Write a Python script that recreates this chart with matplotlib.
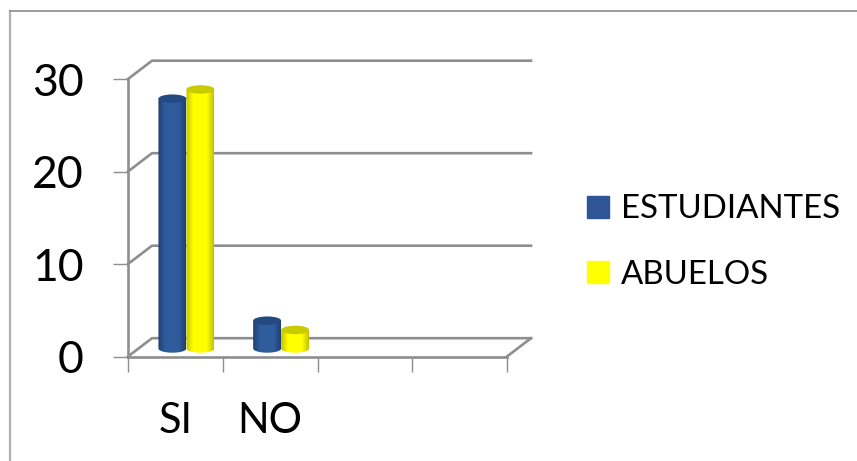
import numpy as np
import matplotlib
matplotlib.use('Agg')
import matplotlib.pyplot as plt
from matplotlib.colors import LinearSegmentedColormap
from matplotlib.lines import Line2D
from matplotlib.patches import Ellipse, Patch, PathPatch
from matplotlib.path import Path

plt.rcParams['font.family'] = ['Lato', 'DejaVu Sans']

categorias = ['SI', 'NO', '', '']
estudiantes = [27, 3]
abuelos = [28, 2]
ticks_y = [0, 10, 20, 30]

W, H = 857, 461
GRIS = '#8e8e8e'

fig = plt.figure(figsize=(W / 100, H / 100), dpi=100)
ax = fig.add_axes([128 / W, 1 - 356.5 / H, 379 / W, 277.5 / H])
ax.set_xlim(0, 4)
ax.set_ylim(0, 30)

# profundidad del falso 3D, en unidades de datos
dx = 24 / (379 / 4)
dy = 18.3 / (277.5 / 30)

for s in ['top', 'right']:
    ax.spines[s].set_visible(False)
for s in ['left', 'bottom']:
    ax.spines[s].set_color(GRIS)
    ax.spines[s].set_linewidth(1.9)

ax.set_xticks(range(5))
ax.set_xticklabels([])
ax.set_xticks(np.arange(len(categorias)) + 0.5, categorias, minor=True)
ax.set_yticks(ticks_y)
ax.tick_params(axis='x', which='major', length=11, width=1, color=GRIS)
ax.tick_params(axis='x', which='minor', length=0, pad=33, labelsize=30)
ax.tick_params(axis='y', length=11, width=1, color=GRIS, pad=21, labelsize=32)

# paredes del fondo
for v in ticks_y:
    ax.plot([0, dx, 4 + dx], [v, v + dy, v + dy], color=GRIS, lw=1.9, clip_on=False, zorder=1)
ax.plot([4, 4 + dx], [0, dy], color=GRIS, lw=1.9, clip_on=False, zorder=1)


def cilindro(x, ancho, valor, c_borde, c_centro, c_tapa):
    # cuerpo con degradado + tapa superior
    alto_elipse = 8.5 / (277.5 / 30)
    base = dy * 0.44
    t = np.linspace(0, np.pi, 40)
    xs = x + ancho / 2 - np.cos(t) * ancho / 2
    ys = base - np.sin(t) * alto_elipse / 2
    verts = [(x, base + valor)] + list(zip(xs, ys)) + [(x + ancho, base + valor), (x, base + valor)]
    forma = PathPatch(Path(verts), transform=ax.transData, fc='none', ec='none')
    ax.add_patch(forma)
    cmap = LinearSegmentedColormap.from_list('c', [(0, c_borde), (0.25, c_centro), (0.75, c_centro), (1, c_borde)])
    im = ax.imshow(np.linspace(0, 1, 64).reshape(1, -1), cmap=cmap, aspect='auto', zorder=3,
                   extent=[x, x + ancho, base - alto_elipse, base + valor])
    im.set_clip_path(forma)
    ax.add_patch(Ellipse((x + ancho / 2, base + valor), ancho, alto_elipse, fc=c_tapa, ec='none',
                         zorder=4, clip_on=False))


ancho = 28 / (379 / 4)
for i in range(len(estudiantes)):
    centro = i + 0.5 + dx / 2 - 0.01
    cilindro(centro - ancho, ancho, estudiantes[i], '#1f3f73', '#2f5c9c', '#234a80')
    cilindro(centro, ancho, abuelos[i], '#c2c200', '#ffff00', '#caca00')

ax.set_xlim(0, 4)
ax.set_ylim(0, 30)

handles = [Patch(color='#2f5597', label='ESTUDIANTES'), Patch(color='#ffff00', label='ABUELOS')]
fig.legend(handles=handles, loc='center left', bbox_to_anchor=(587 / W, 1 - 242 / H), frameon=False,
           fontsize=23.8, handlelength=0.66, handleheight=0.66, handletextpad=0.36, labelspacing=1.07,
           borderpad=0, borderaxespad=0)

# marco del grafico (solo se ven izquierda y arriba)
fig.add_artist(Line2D([10 / W, 10 / W], [0, 1 - 11.5 / H], color='#b0b0b0', lw=1.6))
fig.add_artist(Line2D([9.5 / W, 1], [1 - 11.5 / H, 1 - 11.5 / H], color='#8c8c8c', lw=1.2))

fig.savefig('out.png', dpi=100)
